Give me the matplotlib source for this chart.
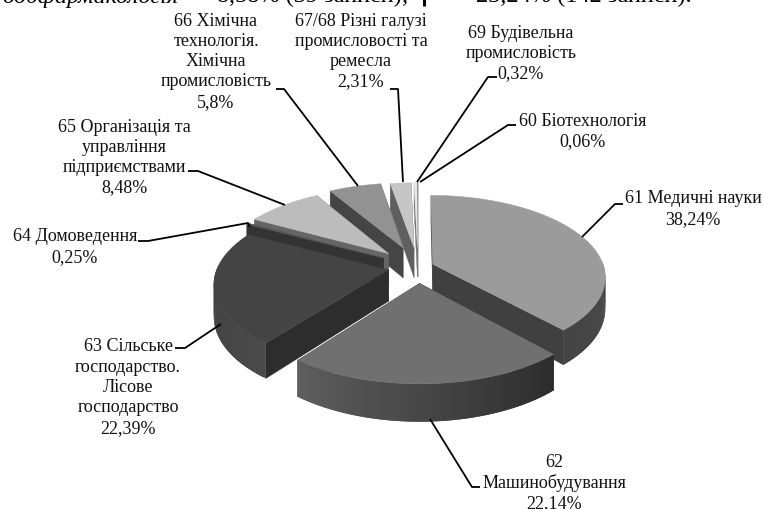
import numpy as np
import matplotlib
matplotlib.use("Agg")
import matplotlib.pyplot as plt
from matplotlib.collections import PolyCollection

plt.rcParams['font.family'] = ['Liberation Serif', 'DejaVu Serif']

# values clockwise from 12 o'clock
codes = ["61", "62", "63", "64", "65", "66", "67/68", "69", "60"]
values = [38.24, 22.14, 22.39, 0.25, 8.48, 5.8, 2.31, 0.32, 0.06]
label_lines = [
    ["61 Медичні науки"],
    ["62", "Машинобудування"],
    ["63 Сільське", "господарство.", "Лісове", "господарство"],
    ["64 Домоведення"],
    ["65 Організація та", "управління", "підприємствами"],
    ["66 Хімічна", "технологія.", "Хімічна", "промисловість"],
    ["67/68 Різні галузі", "промисловості та", "ремесла"],
    ["69 Будівельна", "промисловість"],
    ["60 Біотехнологія"],
]

# styling per slice
explode = [16, 34, 30, 40, 42, 45, 43, 45, 45]
top_col = ["#9b9b9b", "#707070", "#444444", "#5c5c5c", "#bcbcbc", "#929292", "#c6c6c6", "#e8e8e8", "#8c8c8c"]
wall_col = ["#404040", "#2e2e2e", "#2d2d2d", "#333333", "#666666", "#454545", "#5f5f5f", "#777777", "#666666"]
side_from = ["#585858", "#2c2c2c", "#4a4a4a", "#333333", "#666666", "#454545", "#5f5f5f", "#777777", "#666666"]
side_to = ["#444444", "#5e5e5e", "#3a3a3a", "#333333", "#666666", "#454545", "#5f5f5f", "#777777", "#666666"]
draw_order = [8, 7, 6, 5, 4, 3, 2, 0, 1]

# label centre x, first line y, line step
label_x = [693, 554, 128, 75, 124, 216, 361, 521, 583]
label_y = [199, 463, 347, 237, 127, 21, 21, 33, 121]
leaders = [
    [(623, 205), (615, 205), (582, 238)],
    [(480, 488), (472, 488), (430, 420)],
    [(175, 349), (185, 349), (221, 325)],
    [(138, 242), (148, 242), (248, 224), (250, 228)],
    [(188, 172), (198, 172), (285, 206)],
    [(276, 90), (284, 90), (358, 187)],
    [(390, 90), (398, 90), (403, 183)],
    [(497, 78), (488, 78), (417, 183)],
    [(516, 126), (508, 126), (420, 183)],
]

cx, cy = 418, 268
R = 171.0
depth = 80.0
persp = 0.15
height = 31.0


def project(u, v, z=0.0):
    # u right, v towards the viewer, both in units of R
    s = 1.0 / (1.0 - persp * v)
    return cx + R * u * s, cy + depth * v * s + z * s


def hex_mix(a, b, t):
    ca = np.array(matplotlib.colors.to_rgb(a))
    cb = np.array(matplotlib.colors.to_rgb(b))
    return tuple(ca + (cb - ca) * t)


fig = plt.figure(figsize=(7.63, 5.10), dpi=100)
ax = fig.add_axes([0, 0, 1, 1])
ax.set_xlim(0, 763)
ax.set_ylim(510, 0)
ax.axis("off")

edges = np.concatenate([[0], np.cumsum(values)]) / sum(values) * 2 * np.pi
z = 2

for i in draw_order:
    a0, a1 = edges[i], edges[i + 1]
    mid = (a0 + a1) / 2
    off_u = explode[i] / R * np.sin(mid)
    off_v = -explode[i] / R * np.cos(mid)
    th = np.linspace(a0, a1, max(3, int((a1 - a0) * 60)))
    u = off_u + np.sin(th)
    v = off_v - np.cos(th)

    # cut walls, the one further back first
    walls = []
    for k in (0, -1):
        p0 = project(off_u, off_v)
        p1 = project(u[k], v[k])
        p2 = project(u[k], v[k], height)
        p3 = project(off_u, off_v, height)
        walls.append((p1[1], [p0, p1, p2, p3]))
    walls.sort(key=lambda w: w[0])
    for _, poly in walls:
        ax.fill(*zip(*poly), color=wall_col[i], lw=0.3, zorder=z)
        z += 1

    # rim, only the part facing the viewer
    polys, cols = [], []
    for k in range(len(th) - 1):
        if np.cos((th[k] + th[k + 1]) / 2) > 0.05:
            continue
        # each quad runs under the next so no seams show
        n = min(k + 2, len(th) - 1)
        polys.append([project(u[k], v[k]), project(u[n], v[n]),
                      project(u[n], v[n], height), project(u[k], v[k], height)])
        # shaded by how far round the slice we are
        cols.append(hex_mix(side_from[i], side_to[i], k / max(1, len(th) - 2)))
    if polys:
        ax.add_collection(PolyCollection(polys, facecolors=cols, edgecolors="none", zorder=z))
    z += 1

    tx, ty = project(np.concatenate([[off_u], u]), np.concatenate([[off_v], v]))
    ax.fill(tx, ty, color=top_col[i], lw=0.3, zorder=z)
    z += 1

for i in range(len(values)):
    lines = label_lines[i] + [f"{values[i]:g}".replace(".", ",") + "%"]
    for n, line in enumerate(lines):
        ax.text(label_x[i], label_y[i] + n * 20.3, line, ha="center", va="center",
                fontsize=13, color="#111111", zorder=200)
    ax.plot(*zip(*leaders[i]), color="black", lw=1.3, zorder=150, solid_capstyle="butt")

# what is left of the page text above the chart
ax.text(90, 2.5, "ообфармакологія", ha="center", va="baseline", fontsize=17.5, style="italic", color="black")
ax.text(313, 2.5, "8,58% (39 записи);", ha="center", va="baseline", fontsize=17.5, color="black")
ax.text(584, 2.5, "23,24% (142 записи).", ha="center", va="baseline", fontsize=17.5, color="black")
ax.plot([423.5, 423.5], [0, 7], color="black", lw=2.2, solid_capstyle="butt")

fig.savefig("out.png", dpi=100)
